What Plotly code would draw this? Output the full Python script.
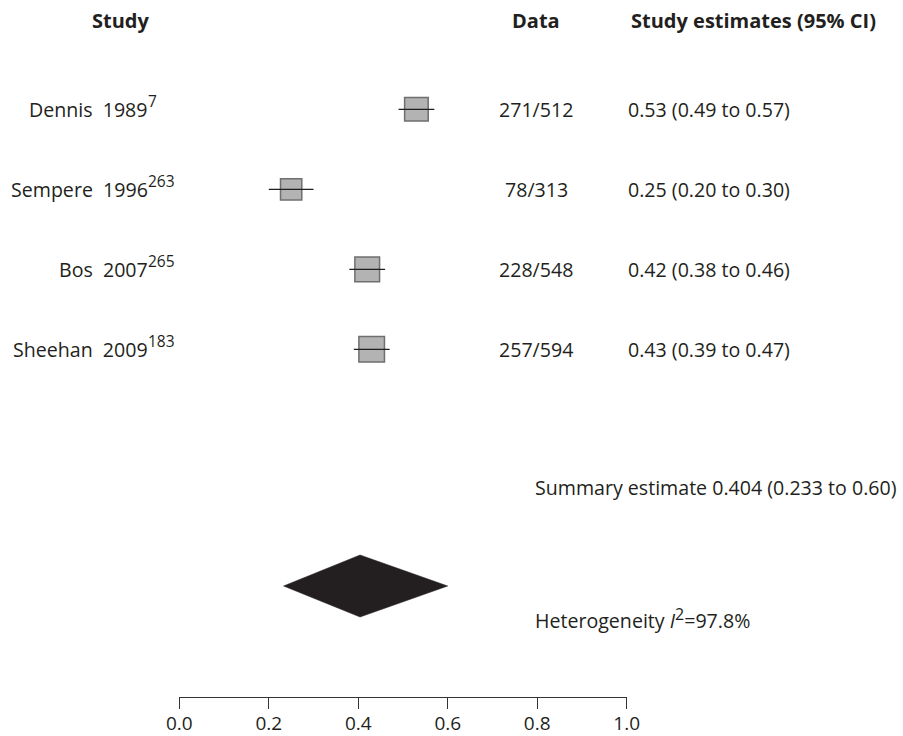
import plotly.graph_objects as go
import math

# ---- data ----
studies = ["Dennis  1989", "Sempere  1996", "Bos  2007", "Sheehan  2009"]
refs = ["7", "263", "265", "183"]
events = [271, 78, 228, 257]
totals = [512, 313, 548, 594]
est = [0.53, 0.25, 0.42, 0.43]
ci_lo = [0.49, 0.20, 0.38, 0.39]
ci_hi = [0.57, 0.30, 0.46, 0.47]

summary_est = 0.404
summary_lo = 0.233
summary_hi = 0.60
i2 = 97.8

x_ticks = [0.0, 0.2, 0.4, 0.6, 0.8, 1.0]

# ---- layout constants (pixels) ----
W, H = 903, 736
PLOT_BOTTOM = 697
X0_PX, X1_PX = 179.3, 626.7
ROW0, ROW_STEP = 109.3, 80.0
DIAMOND_Y, DIAMOND_HALF = 586, 31
INK = "#231f20"
FONT = "Open Sans"
BODY = 19.6

rows = [ROW0 + ROW_STEP * i for i in range(len(studies))]

# box side grows with sqrt of inverse-variance weight
weights = []
for e, n in zip(events, totals):
    p = e / n
    weights.append(n / (p * (1 - p)))
box_sizes = [0.52 * math.sqrt(w) for w in weights]

fig = go.Figure()

# study boxes (on the visible 0-1 scale)
fig.add_trace(go.Scatter(
    x=est, y=rows, mode="markers", xaxis="x2", yaxis="y",
    marker=dict(symbol="square", size=box_sizes, color="#939393",
                line=dict(color="#333333", width=1.5)),
    hoverinfo="skip", showlegend=False,
))

# confidence interval whiskers (on top of boxes)
cx, cy = [], []
for lo, hi, y in zip(ci_lo, ci_hi, rows):
    cx += [lo, hi, None]
    cy += [y, y, None]
fig.add_trace(go.Scatter(
    x=cx, y=cy, mode="lines", xaxis="x2", yaxis="y",
    line=dict(color=INK, width=1.3),
    hoverinfo="skip", showlegend=False,
))

# summary diamond
fig.add_trace(go.Scatter(
    x=[summary_lo, summary_est, summary_hi, summary_est, summary_lo],
    y=[DIAMOND_Y, DIAMOND_Y - DIAMOND_HALF, DIAMOND_Y,
       DIAMOND_Y + DIAMOND_HALF, DIAMOND_Y],
    mode="lines", fill="toself", fillcolor=INK, xaxis="x2", yaxis="y",
    line=dict(color=INK, width=0.5),
    hoverinfo="skip", showlegend=False,
))

# full-width helper axis used to place the text columns
SPAN = X1_PX - X0_PX


def col(px):
    return (px - X0_PX) / SPAN


def text_ann(text, xpx, y, anchor, size=BODY, bold=False):
    return dict(text=f"<b>{text}</b>" if bold else text,
                x=col(xpx), xref="x", y=y, yref="y",
                xanchor=anchor, yanchor="middle", showarrow=False,
                borderpad=0, borderwidth=0,
                font=dict(family=FONT, size=size, color=INK))


ann = []
for txt, xpx in [("Study", 120), ("Data", 536), ("Study estimates (95% CI)", 753)]:
    ann.append(text_ann(txt, xpx, 20, "center", size=20, bold=True))

for name, ref, e, n, m, lo, hi, y in zip(studies, refs, events, totals,
                                         est, ci_lo, ci_hi, rows):
    ann.append(text_ann(name, 148, y, "right"))
    ann.append(text_ann(ref, 148, y - 8, "left", size=15.5))
    ann.append(text_ann(f"{e}/{n}", 536, y, "center"))
    ann.append(text_ann(f"{m:.2f} ({lo:.2f} to {hi:.2f})", 628, y, "left"))

ann.append(text_ann(
    f"Summary estimate {summary_est:.3f} ({summary_lo:.3f} to {summary_hi:.2f})",
    535, 487, "left"))
ann.append(text_ann(
    f'Heterogeneity <i>I</i><sup><span style="font-size:16px">2</span></sup>={i2}%',
    535, 618, "left"))

fig.update_layout(
    template="none",
    width=W, height=H, autosize=False,
    margin=dict(l=0, r=0, t=0, b=H - PLOT_BOTTOM, pad=0, autoexpand=False),
    paper_bgcolor="white", plot_bgcolor="white",
    annotations=ann,
    xaxis=dict(domain=[0, 1], range=[col(0), col(W)], visible=False,
               automargin=False,
               showgrid=False, zeroline=False, fixedrange=True),
    xaxis2=dict(domain=[X0_PX / W, X1_PX / W], range=[0, 1], anchor="y",
                automargin=False,
                tickvals=x_ticks, ticktext=[f"{v:.1f}" for v in x_ticks],
                ticks="outside", ticklen=11, tickwidth=1.3, tickcolor="#333333",
                ticklabelstandoff=-2,
                showline=True, linecolor="#333333", linewidth=1.3,
                showgrid=False, zeroline=False, fixedrange=True,
                tickfont=dict(family=FONT, size=19, color=INK)),
    yaxis=dict(range=[PLOT_BOTTOM, 0], visible=False, showgrid=False,
               automargin=False,
               zeroline=False, fixedrange=True),
)

fig.write_html("out.html")
